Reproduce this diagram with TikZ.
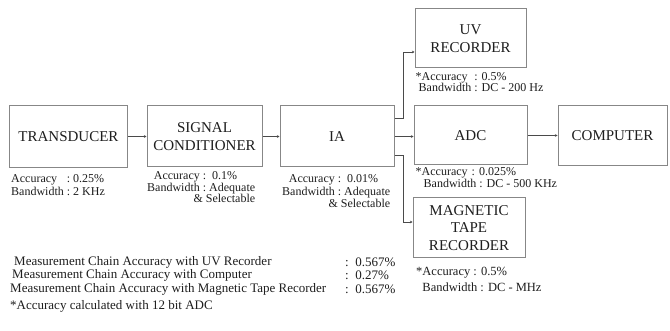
\documentclass[tikz,border=0pt]{standalone}
\usepackage{fontspec}
\setmainfont{Liberation Serif}
\usetikzlibrary{arrows.meta}
\definecolor{ink}{HTML}{1E1E1E}
\definecolor{boxline}{HTML}{878787}
\definecolor{wirec}{HTML}{4A4A4A}
\begin{document}
\begin{tikzpicture}[x=1pt,y=-1pt,
  blk/.style={draw=boxline, line width=1pt, text=ink, align=center,
    font=\fontsize{15}{17.5}\selectfont, inner sep=0pt},
  note/.style={text=ink, font=\fontsize{12}{12}\selectfont, inner sep=0pt, anchor=north west},
  big/.style={text=ink, font=\fontsize{13}{13}\selectfont, inner sep=0pt, anchor=west},
  wire/.style={draw=wirec, line width=0.8pt, -{Stealth[length=2.6pt,width=2.6pt]}}]
\useasboundingbox (0,0) rectangle (670,331);
\fill[white] (0,0) rectangle (670,331);

% blocks
\node[blk, minimum width=118pt, minimum height=62pt] (td) at (68.5,136.5) {TRANSDUCER};
\node[blk, minimum width=115pt, minimum height=61pt] (sc) at (204.5,136.5) {SIGNAL\\CONDITIONER};
\node[blk, minimum width=114pt, minimum height=61pt] (ia) at (337,136.5) {IA};
\node[blk, minimum width=111pt, minimum height=59pt] (uv) at (470.5,38.5) {UV\\RECORDER};
\node[blk, minimum width=113pt, minimum height=59pt] (adc) at (470.5,135.5) {ADC};
\node[blk, minimum width=109pt, minimum height=60pt] (pc) at (612.5,136) {COMPUTER};
\node[blk, minimum width=112pt, minimum height=60pt] (mt) at (469,228) {MAGNETIC\\TAPE\\RECORDER};

% connectors
\draw[wire] (td.east) -- (sc.west);
\draw[wire] (sc.east) -- (ia.west);
\draw[wire] (ia.east) -- (ia.east -| adc.west);
\draw[wire] (adc.east) -- (adc.east -| pc.west);
\coordinate (ju) at (403,52);
\coordinate (jm) at (403,222);
\draw[wire] (ia.east |- 0,118) -| (ju) -- (ju -| uv.west);
\draw[wire] (ia.east |- 0,155) -| (jm) -- (jm -| mt.west);

% notes under blocks
\node[note] (ntd) at (11,173) {\def\arraystretch{1.08}\begin{tabular}{@{}l@{\ :\ }l@{}}Accuracy\ & 0.25\%\\ Bandwidth & 2 KHz\end{tabular}};
\node[note] (nsc) at (147,171.5) {\def\arraystretch{0.92}\begin{tabular}{@{}r@{\ :\ }l@{}}Accuracy & \ 0.1\%\\ Bandwidth & Adequate\\ \multicolumn{2}{@{}r@{}}{\& Selectable}\end{tabular}};
\node[note] (nia) at (282,173.5) {\def\arraystretch{1.05}\begin{tabular}{@{}r@{\ :\ }l@{}}Accuracy & \ 0.01\%\\ Bandwidth & Adequate\\ \multicolumn{2}{@{}r@{}}{\& Selectable}\end{tabular}};
\node[note] (nuv) at (415.5,72) {\def\arraystretch{0.95}\begin{tabular}{@{}l@{\hspace{3pt}:\hspace{4pt}}l@{}}*Accuracy & 0.5\%\\ \ Bandwidth & DC - 200 Hz\end{tabular}};
\node[note] (nadc) at (415.5,166.5) {\def\arraystretch{1.0}\begin{tabular}{@{}l@{}}*Accuracy\hspace{4pt}: 0.025\%\\ \hspace{8pt}Bandwidth : DC - 500 KHz\end{tabular}};
\node[note, font=\fontsize{12.5}{12.5}\selectfont] (nmt) at (416,263.5) {\def\arraystretch{1.3}\begin{tabular}{@{}l@{}}*Accuracy : 0.5\%\\ \ \ Bandwidth : DC - MHz\end{tabular}};

% summary
\node[big] (s1) at (14,262) {Measurement Chain Accuracy with UV Recorder};
\node[big] (s2) at (12,275.5) {Measurement Chain Accuracy with Computer};
\node[big] (s3) at (10,289) {Measurement Chain Accuracy with Magnetic Tape Recorder};
\node[big] (v1) at (345,262) {:\ \ 0.567\%};
\node[big] (v2) at (345,275.5) {:\ \ 0.27\%};
\node[big] (v3) at (345,289) {:\ \ 0.567\%};
\node[big] (fn) at (10,306) {*Accuracy calculated with 12 bit ADC};
\end{tikzpicture}
\end{document}
